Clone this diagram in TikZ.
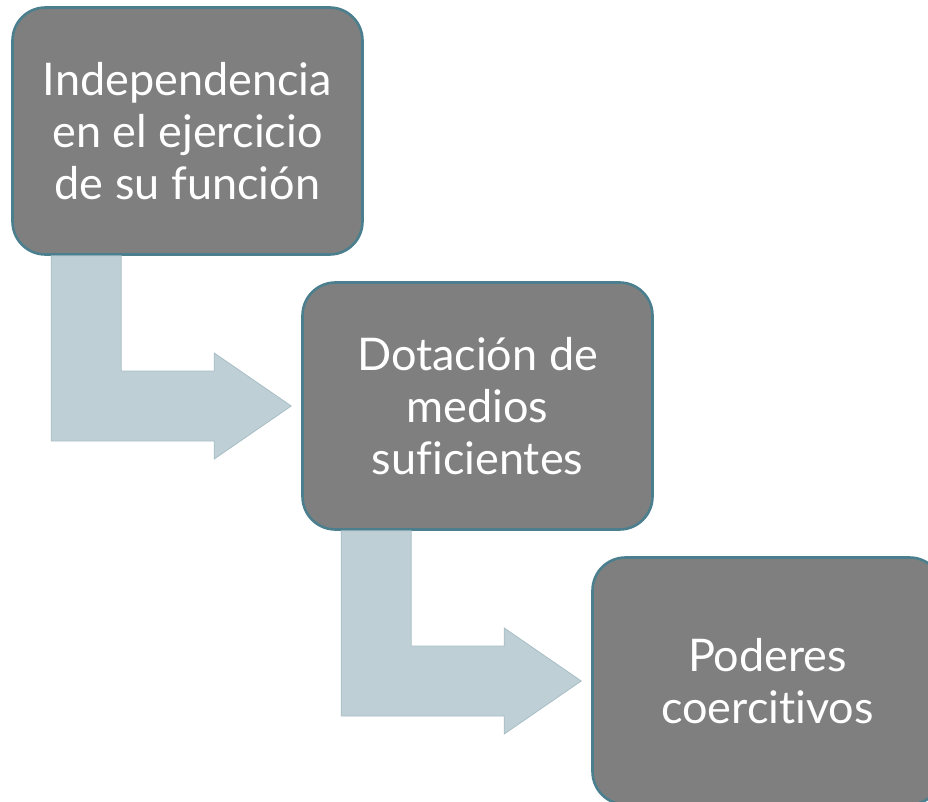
\documentclass[tikz,border=0pt]{standalone}
\usepackage{fontspec}
\setmainfont[Ligatures=NoCommon]{Lato}
\usepackage{xcolor}
\usetikzlibrary{arrows.meta}
\usetikzlibrary{positioning}

\definecolor{cajagris}{RGB}{127,127,127}
\definecolor{bordeazul}{RGB}{75,127,142}
\definecolor{flechaazul}{RGB}{190,208,214}
\definecolor{flechaborde}{RGB}{168,189,197}

\begin{document}
\begin{tikzpicture}[x=1pt, y=-1pt]
\tikzstyle{caja}=[
    rectangle,
    rounded corners=33pt,
    draw=bordeazul,
    fill=cajagris,
    line width=2.6pt,
    minimum width=350pt,
    minimum height=247pt,
    text=white,
    align=center,
    font=\fontsize{45}{52}\selectfont
]
\tikzstyle{flecha}=[fill=flechaazul, draw=flechaborde, line width=0.8pt, line join=miter]

\useasboundingbox (0,0) rectangle (928,802);

% Cajas
\node[caja] (indep) at (187.5,131) {Independencia\\en el ejercicio\\de su función};
\node[caja] (dotacion) at (477.5,406) {Dotación de\\medios\\suficientes};
\node[caja] (poderes) at (767.5,681) {Poderes\\coercitivos};

% Flechas
\draw[flecha] ([xshift=40pt]indep.south west) -- ([xshift=110pt]indep.south west)
    |- ([xshift=-87pt,yshift=35pt]dotacion.west) -- ([xshift=-87pt,yshift=53pt]dotacion.west)
    -- ([xshift=-10pt]dotacion.west) -- ([xshift=-87pt,yshift=-53pt]dotacion.west)
    -- ([xshift=-87pt,yshift=-35pt]dotacion.west) -| ([xshift=40pt]indep.south west) -- cycle;
\draw[flecha] ([xshift=40pt]dotacion.south west) -- ([xshift=110pt]dotacion.south west)
    |- ([xshift=-87pt,yshift=35pt]poderes.west) -- ([xshift=-87pt,yshift=53pt]poderes.west)
    -- ([xshift=-10pt]poderes.west) -- ([xshift=-87pt,yshift=-53pt]poderes.west)
    -- ([xshift=-87pt,yshift=-35pt]poderes.west) -| ([xshift=40pt]dotacion.south west) -- cycle;

\end{tikzpicture}
\end{document}
